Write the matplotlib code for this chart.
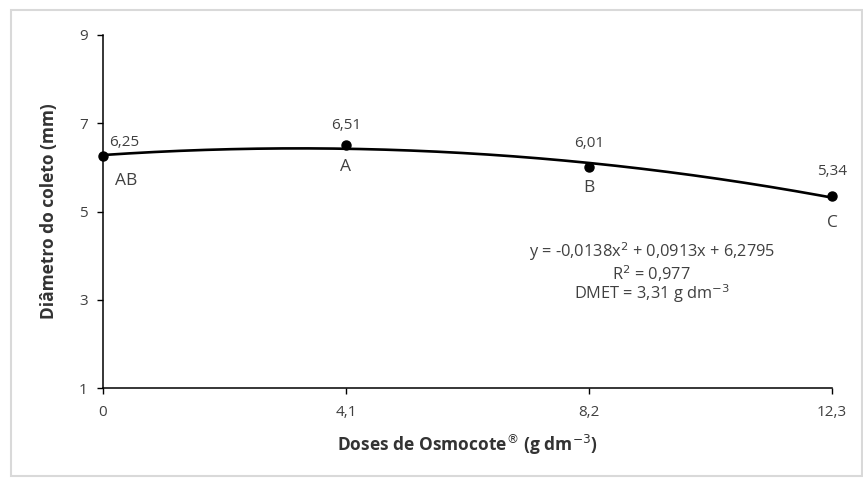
import numpy as np
import matplotlib
matplotlib.use("Agg")
import matplotlib.pyplot as plt
from matplotlib.patches import Rectangle

plt.rcParams['font.family'] = ['Open Sans', 'DejaVu Sans']

# Data
doses = [0, 4.1, 8.2, 12.3]
diam = [6.25, 6.51, 6.01, 5.34]
value_labels = ["6,25", "6,51", "6,01", "5,34"]
letters = ["AB", "A", "B", "C"]
xtick_vals = [0, 4.1, 8.2, 12.3]
xtick_labels = ["0", "4,1", "8,2", "12,3"]
ytick_vals = [1, 3, 5, 7, 9]
coef = [-0.0138, 0.0913, 6.2795]
eq_lines = ["y = -0,0138x$^2$ + 0,0913x + 6,2795", "R$^2$ = 0,977", "DMET = 3,31 g dm$^{-3}$"]

fig = plt.figure(figsize=(8.63, 4.79), dpi=100)
fig.patches.append(Rectangle((11/863, 3/479), 851/863, 466/479, transform=fig.transFigure,
                             fill=False, edgecolor='#d9d9d9', linewidth=1.5))
ax = fig.add_axes([103/863, 1 - 388/479, (832 - 103)/863, (388 - 35)/479])

xs = np.linspace(0, 12.3, 200)
ax.plot(xs, np.polyval(coef, xs), color='black', lw=1.9, zorder=2, clip_on=False)
ax.plot(doses, diam, 'o', color='black', ms=6.5, zorder=3, clip_on=False)

txt_color = '#404040'
above = [(15, 10), (0, 14), (0, 17), (0, 18)]
below = [(17, -18), (0, -16), (0, -15), (0, -19)]
for x, y, vl, lt, a, b in zip(doses, diam, value_labels, letters, above, below):
    ax.annotate(vl, (x, y), xytext=a, textcoords='offset points', ha='center', va='center',
                fontsize=11, color=txt_color)
    ax.annotate(lt, (x, y), xytext=b, textcoords='offset points', ha='center', va='center',
                fontsize=12.5, color=txt_color)

eq_y = [4.08, 3.60, 3.13]
for line, yy in zip(eq_lines, eq_y):
    ax.text(9.26, yy, line, ha='center', va='center', fontsize=11.8, color=txt_color)

ax.set_xlim(0, 12.3)
ax.set_ylim(1, 9)
ax.set_xticks(xtick_vals)
ax.set_xticklabels(xtick_labels)
ax.set_yticks(ytick_vals)
for s in ['top', 'right']:
    ax.spines[s].set_visible(False)
for s in ['left', 'bottom']:
    ax.spines[s].set_linewidth(1.1)
    ax.spines[s].set_color('black')
ax.tick_params(axis='both', direction='out', length=4, width=1, colors='black',
               labelcolor=txt_color, labelsize=11)
ax.tick_params(axis='x', pad=8)
ax.tick_params(axis='y', pad=7)

ax.set_xlabel("Doses de Osmocote$^{®}$ (g dm$^{-3}$)", fontsize=12.5, fontweight='bold',
              color='#333333', labelpad=9)
ax.set_ylabel("Diâmetro do coleto (mm)", fontsize=12.5, fontweight='bold', color='#333333',
              labelpad=15)

fig.savefig("out.png", dpi=100)
